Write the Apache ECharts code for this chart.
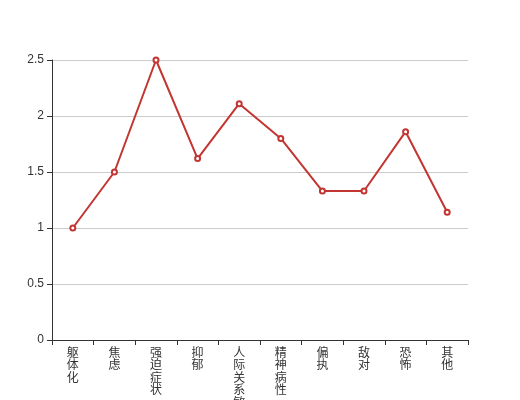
<!DOCTYPE html>
<html><head><meta charset="utf-8">
<script src="https://cdn.jsdelivr.net/npm/echarts@6/dist/echarts.min.js"></script>
<style>html,body{margin:0;padding:0;background:#fff}#c{width:520px;height:400px}</style>
</head><body><div id="c"></div>
<script>
const categories = ['躯体化','焦虑','强迫症状','抑郁','人际关系敏感','精神病性','偏执','敌对','恐怖','其他'];
const values = [1.0, 1.5, 2.5, 1.62, 2.11, 1.8, 1.33, 1.33, 1.86, 1.14];
const yTicks = {min: 0, max: 2.5, interval: 0.5};
const chart = echarts.init(document.getElementById('c'));
chart.setOption({
  animation: false,
  grid: {left: 52, right: 52, top: 60, bottom: 60, containLabel: false, outerBoundsMode: 'none'},
  xAxis: {
    type: 'category', data: categories, boundaryGap: true,
    axisLine: {show: true, lineStyle: {color: '#333'}},
    axisTick: {show: true, alignWithLabel: false, lineStyle: {color: '#333'}},
    axisLabel: {interval: 0, color: '#333', fontSize: 12, lineHeight: 12.5, margin: 6,
      fontFamily: 'Noto Sans CJK SC',
      formatter: v => v.split('').join('\n')}
  },
  yAxis: {
    type: 'value', min: yTicks.min, max: yTicks.max, interval: yTicks.interval,
    axisLine: {show: true, lineStyle: {color: '#333'}},
    axisTick: {show: true, lineStyle: {color: '#333'}},
    axisLabel: {color: '#333', fontSize: 12},
    splitLine: {show: true, lineStyle: {color: '#ccc'}}
  },
  series: [{
    type: 'line', data: values,
    symbol: 'emptyCircle', symbolSize: 5,
    lineStyle: {color: '#c23531', width: 2},
    itemStyle: {color: '#c23531', borderWidth: 1}
  }]
});
</script></body></html>
